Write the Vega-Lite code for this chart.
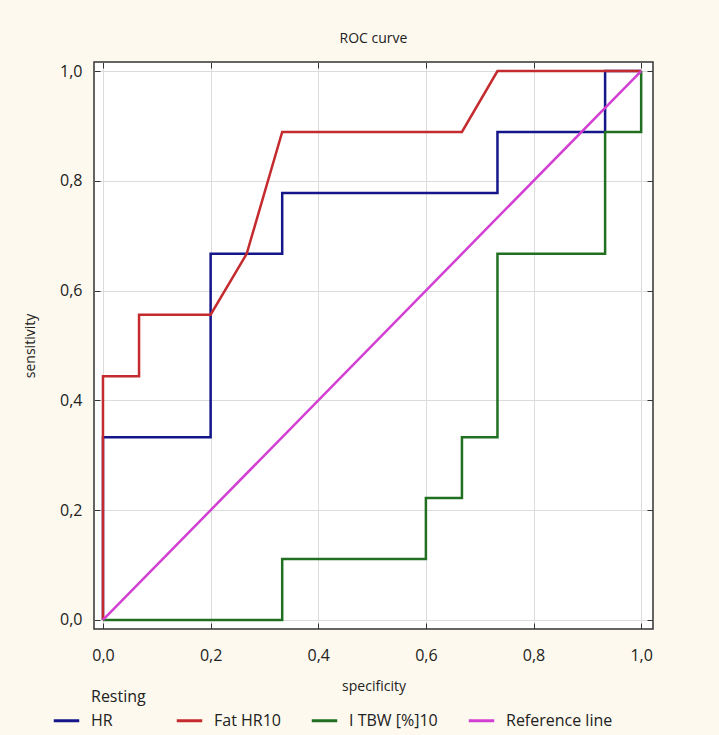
{
  "$schema": "https://vega.github.io/schema/vega-lite/v6.json",
  "autosize": "none",
  "padding": {"left": 94, "top": 62, "right": 66, "bottom": 106},
  "width": 559,
  "height": 567,
  "background": "#fdf9ee",
  "title": {"text": "ROC curve", "fontSize": 14, "font": "Open Sans", "fontWeight": "normal", "color": "#222", "offset": 16, "anchor": "middle"},
  "config": {
    "view": {"stroke": "#333", "strokeWidth": 1.5, "fill": "white"},
    "axis": {"domain": false, "gridColor": "#dcdcdc", "gridWidth": 1, "tickColor": "#333", "labelFont": "Open Sans", "labelColor": "#222", "titleFont": "Open Sans", "titleFontWeight": "normal", "titleColor": "#222"}
  },
  "data": {"values": [
    {"series": "Resting HR", "ord": 0, "spec": 0, "sens": 0},
    {"series": "Resting HR", "ord": 1, "spec": 0, "sens": 0.333},
    {"series": "Resting HR", "ord": 2, "spec": 0.2, "sens": 0.333},
    {"series": "Resting HR", "ord": 3, "spec": 0.2, "sens": 0.667},
    {"series": "Resting HR", "ord": 4, "spec": 0.333, "sens": 0.667},
    {"series": "Resting HR", "ord": 5, "spec": 0.333, "sens": 0.778},
    {"series": "Resting HR", "ord": 6, "spec": 0.733, "sens": 0.778},
    {"series": "Resting HR", "ord": 7, "spec": 0.733, "sens": 0.889},
    {"series": "Resting HR", "ord": 8, "spec": 0.933, "sens": 0.889},
    {"series": "Resting HR", "ord": 9, "spec": 0.933, "sens": 1.0},
    {"series": "Resting HR", "ord": 10, "spec": 1.0, "sens": 1.0},
    {"series": "Fat HR10", "ord": 0, "spec": 0, "sens": 0},
    {"series": "Fat HR10", "ord": 1, "spec": 0, "sens": 0.444},
    {"series": "Fat HR10", "ord": 2, "spec": 0.067, "sens": 0.444},
    {"series": "Fat HR10", "ord": 3, "spec": 0.067, "sens": 0.556},
    {"series": "Fat HR10", "ord": 4, "spec": 0.2, "sens": 0.556},
    {"series": "Fat HR10", "ord": 5, "spec": 0.267, "sens": 0.667},
    {"series": "Fat HR10", "ord": 6, "spec": 0.333, "sens": 0.889},
    {"series": "Fat HR10", "ord": 7, "spec": 0.667, "sens": 0.889},
    {"series": "Fat HR10", "ord": 8, "spec": 0.733, "sens": 1.0},
    {"series": "Fat HR10", "ord": 9, "spec": 1.0, "sens": 1.0},
    {"series": "I TBW [%]10", "ord": 0, "spec": 0, "sens": 0},
    {"series": "I TBW [%]10", "ord": 1, "spec": 0.333, "sens": 0},
    {"series": "I TBW [%]10", "ord": 2, "spec": 0.333, "sens": 0.111},
    {"series": "I TBW [%]10", "ord": 3, "spec": 0.6, "sens": 0.111},
    {"series": "I TBW [%]10", "ord": 4, "spec": 0.6, "sens": 0.222},
    {"series": "I TBW [%]10", "ord": 5, "spec": 0.667, "sens": 0.222},
    {"series": "I TBW [%]10", "ord": 6, "spec": 0.667, "sens": 0.333},
    {"series": "I TBW [%]10", "ord": 7, "spec": 0.733, "sens": 0.333},
    {"series": "I TBW [%]10", "ord": 8, "spec": 0.733, "sens": 0.667},
    {"series": "I TBW [%]10", "ord": 9, "spec": 0.933, "sens": 0.667},
    {"series": "I TBW [%]10", "ord": 10, "spec": 0.933, "sens": 0.889},
    {"series": "I TBW [%]10", "ord": 11, "spec": 1.0, "sens": 0.889},
    {"series": "I TBW [%]10", "ord": 12, "spec": 1.0, "sens": 1.0},
    {"series": "Reference line", "ord": 0, "spec": 0, "sens": 0},
    {"series": "Reference line", "ord": 1, "spec": 1.0, "sens": 1.0}
  ]},
  "layer": [
    {
      "transform": [{"filter": "datum.series != 'Reference line'"}],
      "mark": {"type": "line", "strokeWidth": 2.5},
      "encoding": {
        "x": {"field": "spec", "type": "quantitative", "scale": {"domain": [-0.0167, 1.022], "nice": false, "zero": false},
              "axis": {"orient": "bottom", "title": "specificity", "titleFontSize": 14, "titlePadding": 16, "values": [0, 0.2, 0.4, 0.6, 0.8, 1.0], "labelExpr": "replace(format(datum.value, '.1f'), '.', ',')", "labelFontSize": 16, "tickSize": -6, "labelPadding": 24, "grid": true}},
        "y": {"field": "sens", "type": "quantitative", "scale": {"domain": [-0.0164, 1.0164], "nice": false, "zero": false},
              "axis": {"orient": "left", "title": "sensitivity", "titleFontSize": 14, "titlePadding": 22, "values": [0, 0.2, 0.4, 0.6, 0.8, 1.0], "labelExpr": "replace(format(datum.value, '.1f'), '.', ',')", "labelFontSize": 16, "tickSize": -6, "labelPadding": 18, "grid": true}},
        "color": {"field": "series", "type": "nominal",
                  "scale": {"domain": ["Resting HR", "Fat HR10", "I TBW [%]10", "Reference line"], "range": ["#15168a", "#c42a2e", "#217021", "#d23fd2"]},
                  "legend": {"orient": "none", "legendX": -42, "legendY": 644, "direction": "horizontal", "title": null, "symbolType": "stroke", "symbolStrokeWidth": 3, "symbolSize": 650, "labelFontSize": 16, "labelFont": "Open Sans", "labelColor": "#222", "labelOffset": 10, "columnPadding": 24, "labelExpr": "datum.label == 'Resting HR' ? ['Resting', 'HR'] : datum.label",
                             "encode": {"labels": {"update": {"lineHeight": {"value": 24}, "dy": {"signal": "datum.label == 'Resting HR' ? -24 : 0"}}}}}},
        "order": {"field": "ord", "type": "quantitative"}
      }
    },
    {
      "transform": [{"filter": "datum.series == 'Reference line'"}],
      "mark": {"type": "line", "strokeWidth": 2.5},
      "encoding": {
        "x": {"field": "spec", "type": "quantitative",
              "axis": {"orient": "top", "title": null, "labels": false, "values": [0, 0.2, 0.4, 0.6, 0.8, 1.0], "tickSize": -6, "grid": false}},
        "y": {"field": "sens", "type": "quantitative",
              "axis": {"orient": "right", "title": null, "labels": false, "values": [0, 0.2, 0.4, 0.6, 0.8, 1.0], "tickSize": -6, "grid": false}},
        "color": {"field": "series", "type": "nominal"},
        "order": {"field": "ord", "type": "quantitative"}
      }
    }
  ],
  "resolve": {"axis": {"x": "independent", "y": "independent"}}
}
